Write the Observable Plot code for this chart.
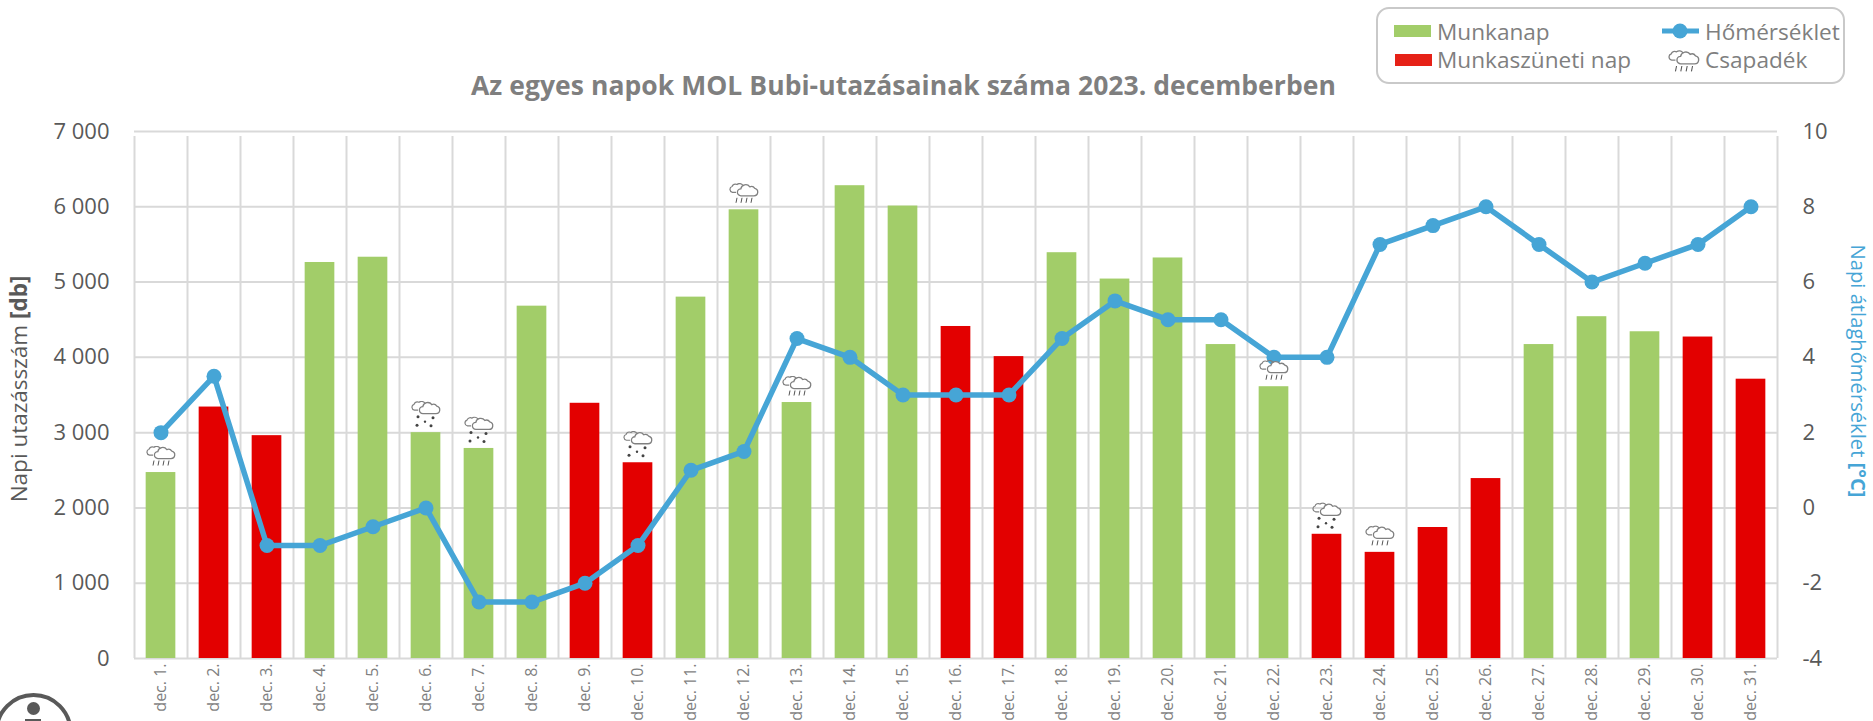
<!DOCTYPE html>
<html><head><meta charset="utf-8">
<script src="https://cdn.jsdelivr.net/npm/d3@7"></script>
<script src="https://cdn.jsdelivr.net/npm/@observablehq/plot@0.6"></script>
<style>
html,body{margin:0;padding:0;background:#fff;overflow:hidden}
#wrap{position:relative;width:1873px;height:721px;font-family:"Open Sans",sans-serif;color:#7f7f7f;overflow:hidden}
.abs{position:absolute;white-space:nowrap}
#title{left:471px;top:67px;font-size:26.5px;font-weight:700;color:#7f7f7f;letter-spacing:.05px}
#legend{left:1376px;top:7px;width:469px;height:77px;border:2px solid #c9c9c9;border-radius:13px;box-sizing:border-box}
.lt{font-size:22.6px;color:#7f7f7f;line-height:28px}
.sw{position:absolute;width:37px;height:12px}
#yl{left:18px;top:389px;font-size:22.5px;color:#595959;transform:translate(-50%,-50%) rotate(-90deg)}
#yr{left:1859px;top:371px;font-size:20.2px;color:#46a5d6;transform:translate(-50%,-50%) rotate(90deg)}
</style></head><body><div id="wrap">
<div id="plot"></div>
<div class="abs" id="title">Az egyes napok MOL Bubi-utazásainak száma 2023. decemberben</div>
<div class="abs" id="yl">Napi utazásszám <b>[db]</b></div>
<div class="abs" id="yr">Napi átlaghőmérséklet <b>[°C]</b></div>
<div class="abs" id="legend"></div>
<svg class="abs" style="left:0;top:690px" width="80" height="31" viewBox="0 0 80 31">
<circle cx="33.5" cy="42" r="37" fill="none" stroke="#595959" stroke-width="4"/>
<circle cx="33.5" cy="18.5" r="6.5" fill="#595959"/><rect x="25" y="29" width="16" height="4" fill="#595959"/>
</svg>
</div>
<script>
const days = d3.range(1, 32);
const trips = [2470,3340,2960,5260,5330,3000,2790,4680,3390,2600,4800,5960,3400,6280,6010,4410,4010,5390,5040,5320,4170,3610,1650,1410,1740,2390,4170,4540,4340,4270,3710];
const temps = [2,3.5,-1,-1,-0.5,0,-2.5,-2.5,-2,-1,1,1.5,4.5,4,3,3,3,4.5,5.5,5,5,4,4,7,7.5,8,7,6,6.5,7,8];
const holidays = [2,3,9,10,16,17,23,24,25,26,30,31];
const rainDays = [1,12,13,22,24];
const snowDays = [6,7,10,23];
const leftTicks = [0,1000,2000,3000,4000,5000,6000,7000];
const rightTicks = [-4,-2,0,2,4,6,8,10];

const GREEN="#a2cd69", RED="#e30000", BLUE="#46a5d6", GRID="#d9d9d9";
const toLeft = t => (t + 4) * 500;
const cloud = `<path d="M7 9.5H3.5a3 3 0 0 1-.5-5.8a3.5 3.5 0 0 1 5-2a4 4 0 0 1 6 1" fill="none" stroke="#808080" stroke-width="1.2"/><path d="M12 13H25a3.8 3.8 0 0 0 .8-7.5a4 4 0 0 0-5-1.5a5 5 0 0 0-9 2a3.5 3.5 0 0 0 .2 7z" fill="#fff" stroke="#808080" stroke-width="1.3"/>`;
const svgUri = s => "data:image/svg+xml," + encodeURIComponent(`<svg xmlns="http://www.w3.org/2000/svg" width="30" height="30" viewBox="0 0 30 30">${s}</svg>`);
const rainIcon = svgUri(cloud + `<path d="M8 15l-1 5M13 15l-1 5M18 15l-1 5M23 15l-1 5" stroke="#555" stroke-width="1" fill="none"/>`);
const snowIcon = svgUri(cloud + `<g fill="#444"><circle cx="7" cy="16" r="1.5"/><circle cx="22" cy="17" r="1.5"/><circle cx="14" cy="21" r="1.2"/><circle cx="6" cy="24.5" r="1.5"/><circle cx="20" cy="25" r="1.5"/></g>`);

const rows = days.map((d,i)=>({day:d, trips:trips[i], temp:temps[i], holiday:holidays.includes(d)}));
const edges = d3.range(0.5, 32, 1);
const barHalf = 0.28;
const spaced = v => d3.format(",")(v).replace(/,/g, " ");

const chart = Plot.plot({
  width:1873, height:721,
  marginLeft:134, marginRight:96, marginTop:131, marginBottom:63,
  style:{background:"#fff", fontFamily:'"Open Sans",sans-serif', overflow:"visible"},
  x:{type:"linear", domain:[0.5,31.5], axis:null},
  y:{type:"linear", domain:[0,7000], axis:null},
  marks:[
    Plot.ruleY(leftTicks,{stroke:GRID,strokeWidth:2}),
    Plot.ruleX(edges,{y1:0,y2:7000,insetBottom:-5,stroke:GRID,strokeWidth:2}),
    Plot.rectY(rows,{x1:d=>d.day-barHalf,x2:d=>d.day+barHalf,y1:0,y2:"trips",fill:d=>d.holiday?RED:GREEN}),
    Plot.line(rows,{x:"day",y:d=>toLeft(d.temp),stroke:BLUE,strokeWidth:5.5,strokeLinejoin:"round"}),
    Plot.dot(rows,{x:"day",y:d=>toLeft(d.temp),r:7.5,fill:BLUE}),
    Plot.image(rows.filter(d=>rainDays.includes(d.day)),{x:"day",y:"trips",src:rainIcon,width:30,height:30,dy:-12}),
    Plot.image(rows.filter(d=>snowDays.includes(d.day)),{x:"day",y:"trips",src:snowIcon,width:30,height:30,dy:-17}),
    Plot.axisY(leftTicks,{anchor:"left",tickSize:0,tickPadding:25,tickFormat:spaced,fontSize:22,color:"#595959",label:null,marginLeft:134}),
    Plot.axisY(rightTicks.map(toLeft),{anchor:"right",tickSize:0,tickPadding:25,tickFormat:v=>String(v/500-4),fontSize:22,color:"#595959",label:null,textAnchor:"start"}),
    Plot.axisX(days,{anchor:"bottom",tickSize:0,tickPadding:5,tickRotate:-90,tickFormat:d=>`dec. ${d}.`,fontSize:16,color:"#7f7f7f",label:null})
  ]
});
document.getElementById("plot").appendChild(chart);

const lg = document.getElementById("legend");
lg.innerHTML = `
<div class="sw" style="left:16px;top:16px;background:${GREEN}"></div>
<div class="abs lt" style="left:59px;top:9px">Munkanap</div>
<div class="sw" style="left:17px;top:45px;background:#e62117"></div>
<div class="abs lt" style="left:59px;top:37px">Munkaszüneti nap</div>
<svg class="abs" style="left:284px;top:12px" width="38" height="20"><line x1="0" x2="37" y1="10" y2="10" stroke="${BLUE}" stroke-width="5"/><circle cx="18" cy="10" r="7.5" fill="${BLUE}"/></svg>
<div class="abs lt" style="left:327px;top:9px">Hőmérséklet</div>
<img class="abs" style="left:290px;top:41px" src="${rainIcon}" width="32" height="32">
<div class="abs lt" style="left:327px;top:37px">Csapadék</div>`;
</script></body></html>
